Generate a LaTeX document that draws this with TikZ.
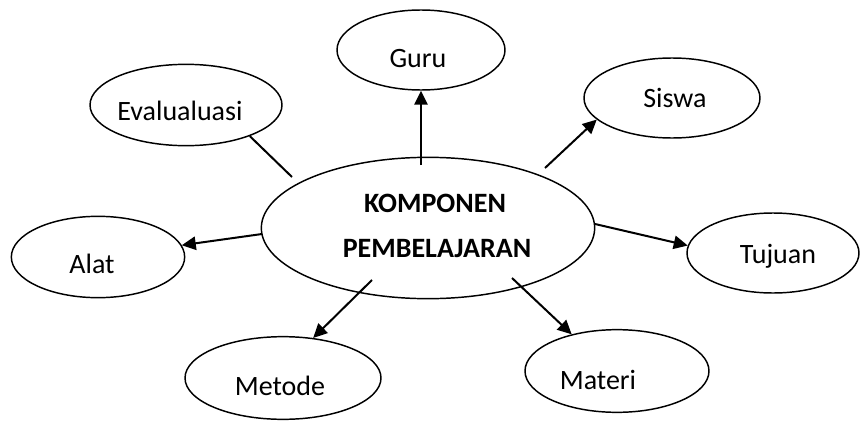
\documentclass[tikz,border=0pt]{standalone}
\usepackage{fontspec}
\setmainfont{Carlito}
\usetikzlibrary{shapes.geometric,arrows.meta}
\tikzset{
  bubble/.style={draw,ellipse,line width=1.1pt,inner sep=0pt},
  word/.style={anchor=base,inner sep=0pt,font=\fontsize{21}{25}\selectfont},
  link/.style={line width=1.5pt,-{Triangle[length=10.5pt,width=10pt]}}
}

\begin{document}
\begin{tikzpicture}[x=0.75pt,y=-0.75pt]
    \useasboundingbox (0,0) rectangle (868,421);
    % ellipses
    \node[bubble,minimum width=250pt,minimum height=106pt] (pusat) at (428,228) {};
    \foreach \name/\cx/\cy/\w/\h in {guru/421/50/126/60,evaluasi/186/105/144/61,siswa/672/98/132/60,alat/98/257/130/61,tujuan/773/253/129/60,metode/283/378/147/62,materi/617/371/138/62}{
        \node[bubble,minimum width=\w pt,minimum height=\h pt] (\name) at (\cx,\cy) {};
    }
    % texts
    \node[word,font=\fontsize{21}{25}\selectfont\bfseries] (pusat1) at (435,212) {KOMPONEN};
    \node[word,font=\fontsize{21}{25}\selectfont\bfseries] (pusat2) at (437,257) {PEMBELAJARAN};
    \node[word] (tguru) at (418,67) {Guru};
    \node[word] (tevaluasi) at (180,120) {Evalualuasi};
    \node[word] (tsiswa) at (675,107) {Siswa};
    \node[word] (talat) at (92,273) {Alat};
    \node[word] (ttujuan) at (778,263) {Tujuan};
    \node[word] (tmetode) at (280,395) {Metode};
    \node[word] (tmateri) at (598,389) {Materi};
    % connectors
    \coordinate (a1) at (292,177);
    \coordinate (a2) at (421,165);
    \coordinate (a3) at (545,168);
    \coordinate (a4) at (262,234);
    \coordinate (a5) at (595,224);
    \coordinate (a6) at (372,280);
    \coordinate (a7) at (512,278);
    \draw[line width=1.5pt] (a1)--(evaluasi.334);
    \draw[link] (a2)--(guru.south);
    \draw[link] (a3)--(siswa.196);
    \draw[link] (a4)--(alat.8);
    \draw[link] (a5)--(tujuan.175);
    \draw[link] (a6)--(metode.53);
    \draw[link] (a7)--(materi.141);
\end{tikzpicture}
\end{document}
